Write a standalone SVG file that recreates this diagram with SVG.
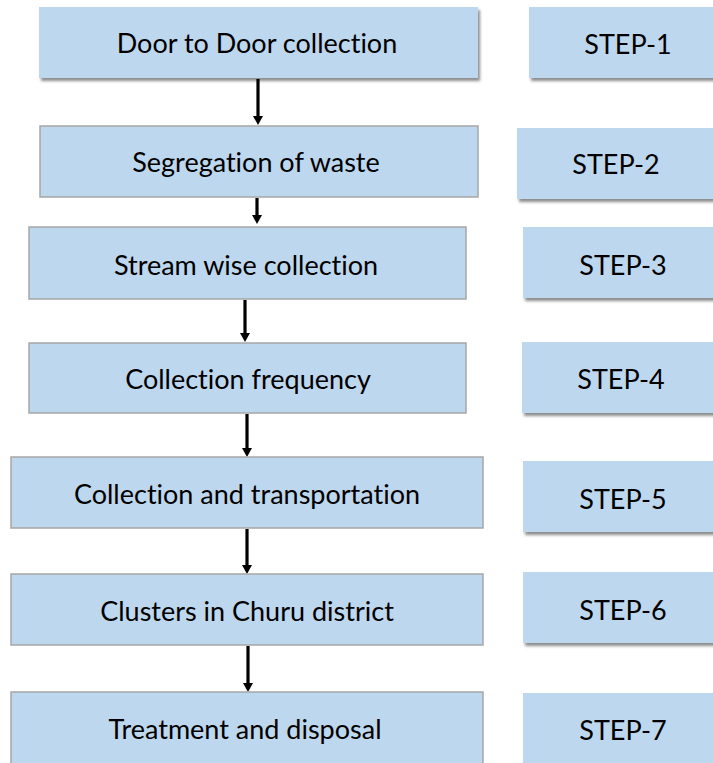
<svg xmlns="http://www.w3.org/2000/svg" width="713" height="763" viewBox="0 0 713 763">
<style>
.box{fill:#BDD7EE;stroke:#A6A6A6;stroke-width:1.5}
.sh{fill:#BDD7EE;filter:url(#ds)}
.t{font-family:Lato,"Liberation Sans",sans-serif;font-size:27px;fill:#000;text-anchor:middle;font-variant-ligatures:none}
.ln{stroke:#000;stroke-width:3.2;fill:none}
</style>
<defs>
<filter id="ds" x="-5%" y="-10%" width="115%" height="130%">
<feDropShadow dx="2" dy="3" stdDeviation="1.5" flood-color="#000" flood-opacity="0.45"/>
</filter>
</defs>
<rect width="713" height="763" fill="#fff"/>
<g id="connectors">
<path class="ln" d="M258 79 V118"/><path d="M253 116 L263 116 L258 125 Z"/>
<path class="ln" d="M257 198 V217"/><path d="M252 215 L262 215 L257 224 Z"/>
<path class="ln" d="M245 300 V334"/><path d="M240 333 L250 333 L245 342 Z"/>
<path class="ln" d="M247 414 V449"/><path d="M242 448 L252 448 L247 457 Z"/>
<path class="ln" d="M247 529 V566"/><path d="M242 565 L252 565 L247 574 Z"/>
<path class="ln" d="M248 646 V684"/><path d="M243 683 L253 683 L248 692 Z"/>
</g>
<g id="n1"><rect class="sh" x="39" y="7" width="439" height="71"/><text class="t" x="257" y="53">Door to Door collection</text></g>
<g id="n2"><rect class="box" x="40" y="126" width="438" height="71"/><text class="t" x="256" y="172">Segregation of waste</text></g>
<g id="n3"><rect class="box" x="29" y="227" width="437" height="72"/><text class="t" x="246" y="275">Stream wise collection</text></g>
<g id="n4"><rect class="box" x="29" y="343" width="437" height="70"/><text class="t" x="248" y="389">Collection frequency</text></g>
<g id="n5"><rect class="box" x="11" y="457" width="472" height="71"/><text class="t" x="247" y="504">Collection and transportation</text></g>
<g id="n6"><rect class="box" x="11" y="574" width="472" height="71"/><text class="t" x="247" y="621">Clusters in Churu district</text></g>
<g id="n7"><rect class="box" x="11" y="692" width="472" height="80"/><text class="t" x="245" y="739">Treatment and disposal</text></g>
<g id="s1"><rect class="sh" x="529" y="7" width="190" height="71"/><text class="t" x="628" y="54">STEP-1</text></g>
<g id="s2"><rect class="sh" x="517" y="128" width="200" height="71"/><text class="t" x="616" y="174">STEP-2</text></g>
<g id="s3"><rect class="sh" x="523" y="227" width="200" height="71"/><text class="t" x="623" y="275">STEP-3</text></g>
<g id="s4"><rect class="sh" x="522" y="342" width="200" height="71"/><text class="t" x="621" y="389">STEP-4</text></g>
<g id="s5"><rect class="sh" x="523" y="461" width="200" height="71"/><text class="t" x="623" y="509">STEP-5</text></g>
<g id="s6"><rect class="sh" x="523" y="572" width="200" height="71"/><text class="t" x="623" y="620">STEP-6</text></g>
<g id="s7"><rect class="sh" x="523" y="693" width="200" height="80"/><text class="t" x="623" y="740">STEP-7</text></g>
</svg>
